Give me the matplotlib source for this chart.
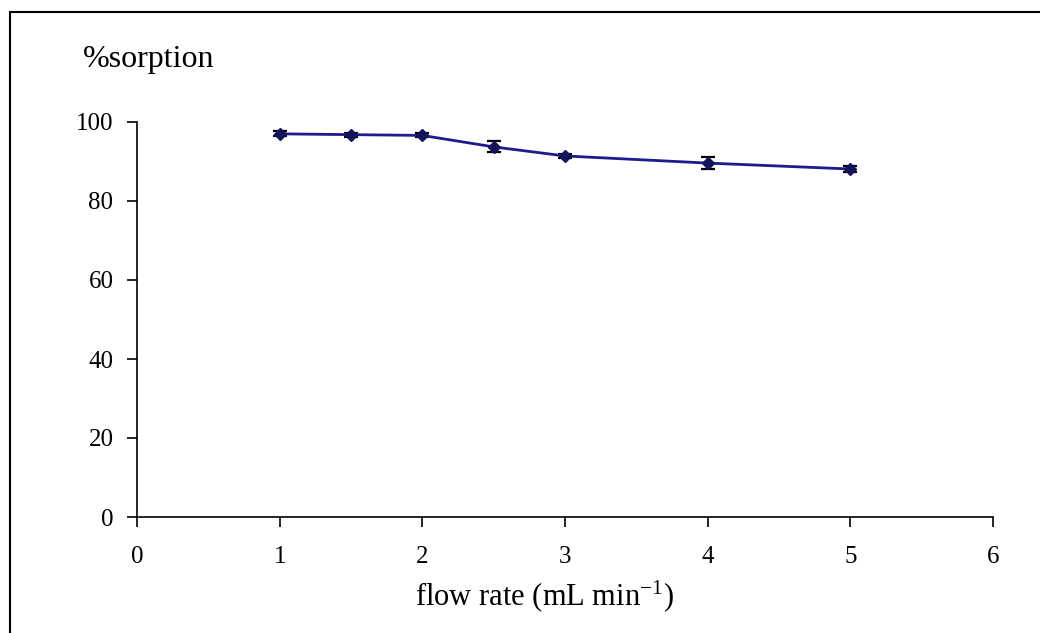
import matplotlib
matplotlib.use("Agg")
import matplotlib.pyplot as plt
from matplotlib.patches import Rectangle

flow_rate = [1, 1.5, 2, 2.5, 3, 4, 5]
sorption = [97.0, 96.8, 96.6, 93.7, 91.4, 89.6, 88.1]
errors = [0.6, 0.5, 0.5, 1.4, 0.6, 1.5, 0.8]
x_ticks = [0, 1, 2, 3, 4, 5, 6]
y_ticks = [0, 20, 40, 60, 80, 100]

plt.rcParams['font.family'] = ['Liberation Serif', 'DejaVu Serif']
plt.rcParams['mathtext.fontset'] = 'custom'
plt.rcParams['mathtext.rm'] = 'Liberation Serif'
plt.rcParams['mathtext.it'] = 'Liberation Serif:italic'

W, H = 1040, 633
fig = plt.figure(figsize=(W / 100, H / 100), dpi=100)
fig.patch.set_facecolor('white')

# outer frame
fig.patches.append(Rectangle((10 / W, -0.05), 1.2, (H - 12) / H + 0.05,
                             transform=fig.transFigure, fill=False,
                             edgecolor='black', linewidth=1.5))

left, right = 137 / W, 993 / W
bottom, top = (H - 517) / H, (H - 122) / H
ax = fig.add_axes([left, bottom, right - left, top - bottom])
ax.set_facecolor('none')

ax.errorbar(flow_rate, sorption, yerr=errors, color='#1c1c8c', linewidth=2.0,
            marker='D', markersize=6.5, markerfacecolor='#14145a',
            markeredgecolor='#14145a', ecolor='black', elinewidth=1.6,
            capsize=5, capthick=1.6, zorder=3)

ax.set_xlim(0, 6)
ax.set_ylim(0, 100)
ax.set_xticks(x_ticks)
ax.set_yticks(y_ticks)
for s in ['top', 'right']:
    ax.spines[s].set_visible(False)
for s in ['left', 'bottom']:
    ax.spines[s].set_linewidth(1.2)
ax.tick_params(axis='both', direction='out', length=7, width=1.2,
               labelsize=18)
ax.tick_params(axis='y', pad=10)
ax.tick_params(axis='x', pad=14)

ax.set_xlabel(r'flow rate (mL min$^{\mathrm{-1}}$)', fontsize=22, labelpad=4)
ax.xaxis.set_label_coords((544 - 137) / (993 - 137), -0.155)
fig.text(83 / W, 1 - 60 / H, '%sorption', fontsize=23, ha='left', va='center')

fig.savefig('out.png', dpi=100)
